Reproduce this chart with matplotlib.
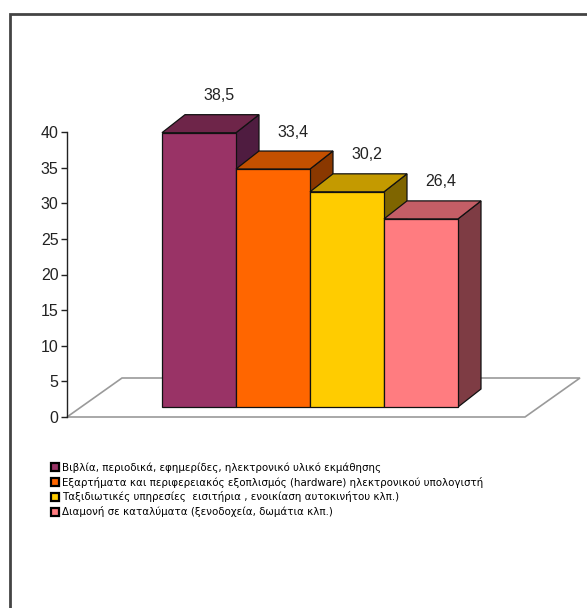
import matplotlib.pyplot as plt
from matplotlib.patches import Patch, Rectangle
import numpy as np

# data
categories = [
    "Βιβλία, περιοδικά, εφημερίδες, ηλεκτρονικό υλικό εκμάθησης",
    "Εξαρτήματα και περιφερειακός εξοπλισμός (hardware) ηλεκτρονικού υπολογιστή",
    "Ταξιδιωτικές υπηρεσίες  εισιτήρια , ενοικίαση αυτοκινήτου κλπ.)",
    "Διαμονή σε καταλύματα (ξενοδοχεία, δωμάτια κλπ.)",
]
values = [38.5, 33.4, 30.2, 26.4]
value_labels = ["38,5", "33,4", "30,2", "26,4"]
yticks = [0, 5, 10, 15, 20, 25, 30, 35, 40]

front_colors = ["#993366", "#FF6600", "#FFCC00", "#FF7C80"]
top_colors = ["#6e2549", "#c45000", "#c49a00", "#c45e66"]
side_colors = ["#4f1c40", "#8a3800", "#7f6500", "#7e3c44"]

plt.rcParams['font.family'] = ['Liberation Sans', 'DejaVu Sans']

W, H = 587, 608
fig = plt.figure(figsize=(W / 100, H / 100), dpi=100)

# axes placed so that value 0 sits at pixel row 417 and 40 at row 132
ax_l, ax_r, ax_top, ax_bot = 67, 580, 132, 417
ax = fig.add_axes([ax_l / W, 1 - ax_bot / H, (ax_r - ax_l) / W, (ax_bot - ax_top) / H])
px_x = 74.0                      # pixels per category
x0 = -(199 - ax_l) / px_x
ax.set_xlim(x0, x0 + (ax_r - ax_l) / px_x)
ax.set_ylim(0, 40)
ux = 1 / px_x
uy = 40 / (ax_bot - ax_top)

# 3d offsets (pixels converted to data units)
base = 10 * uy
ddx, ddy = 23 * ux, 18 * uy
fdx, fdy = 55 * ux, 39 * uy
floor_right = (525 - 199) * ux

# floor
fx = [x0, floor_right, floor_right + fdx, x0 + fdx]
fy = [0, 0, fdy, fdy]
ax.fill(fx, fy, facecolor="white", edgecolor="#9a9a9a", lw=1.2, zorder=1, clip_on=False)

pos = np.arange(len(values))
width = 1.0
for i, v in enumerate(values):
    l, r = pos[i] - width / 2, pos[i] + width / 2
    b, t = base, base + v
    # side face
    ax.fill([r, r + ddx, r + ddx, r], [b, b + ddy, t + ddy, t],
            facecolor=side_colors[i], edgecolor="#111111", lw=0.9, zorder=2 + i, clip_on=False)
    # top face
    ax.fill([l, r, r + ddx, l + ddx], [t, t, t + ddy, t + ddy],
            facecolor=top_colors[i], edgecolor="#111111", lw=0.9, zorder=2 + i, clip_on=False)
    # front face
    ax.fill([l, r, r, l], [b, b, t, t],
            facecolor=front_colors[i], edgecolor="#111111", lw=0.9, zorder=2 + i, clip_on=False)
    ax.text(pos[i] + ddx - 3 * ux, t + 37 * uy, value_labels[i], ha="center", va="center",
            fontsize=11.5, color="#222222", zorder=10, clip_on=False)

for s in ["top", "right", "bottom"]:
    ax.spines[s].set_visible(False)
ax.spines["left"].set_color("#222222")
ax.spines["left"].set_linewidth(1.0)
ax.set_xticks([])
ax.set_yticks(yticks)
ax.tick_params(axis="y", length=4, width=1, labelsize=11.5, pad=2, colors="#222222")
ax.patch.set_alpha(0)

handles = [Patch(facecolor=c, edgecolor="black", lw=1.6) for c in front_colors]
fig.legend(handles, categories, loc="upper left", bbox_to_anchor=(47 / W, 1 - 458 / H),
           frameon=False, prop={"family": "DejaVu Sans", "size": 7.4},
           handlelength=0.75, handleheight=0.75, handletextpad=0.35,
           labelspacing=0.38, borderaxespad=0)

# outer chart frame (runs off the right and bottom edges)
fig.patches.append(Rectangle((10 / W, -0.05), 1.0, (H - 14) / H + 0.05, transform=fig.transFigure,
                             fill=False, edgecolor="#444444", lw=2))

fig.savefig("out.png", dpi=100)
